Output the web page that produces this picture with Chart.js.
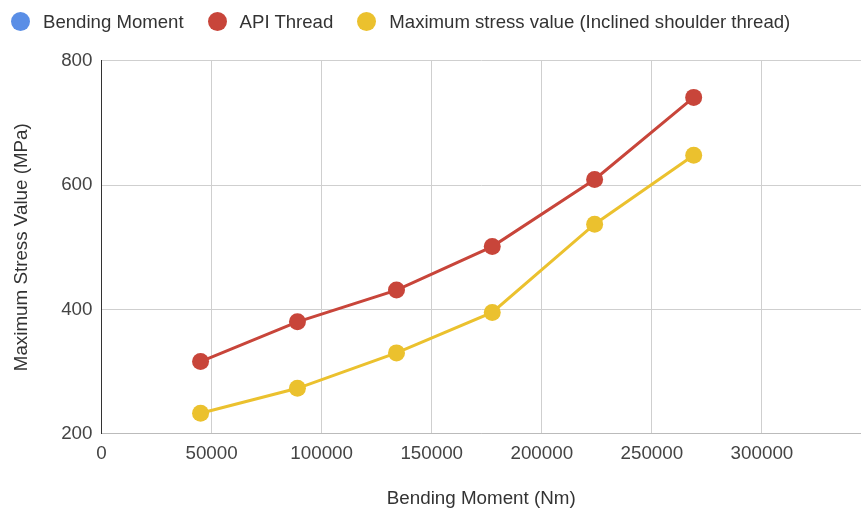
<!DOCTYPE html>
<html>
<head>
<meta charset="utf-8">
<script src="https://cdn.jsdelivr.net/npm/chart.js@4.4.1/dist/chart.umd.min.js"></script>
<style>
  html, body { margin: 0; padding: 0; background: #fff; }
  #wrap { position: relative; width: 861px; height: 512px; }
  #legend {
    position: absolute; left: 11px; top: 11px;
    display: flex; gap: 24px;
    font-family: 'Liberation Sans', Arial, sans-serif; font-size: 18.6px;
    color: #333; line-height: 21px;
  }
  .item { display: flex; align-items: center; }
  .dot { width: 19px; height: 19px; border-radius: 50%; margin-right: 13px; }
</style>
</head>
<body>
<div id="wrap">
  <canvas id="stressChart" width="861" height="512"></canvas>
  <div id="legend"></div>
</div>
<script>
// values
let bendingMoment = [45000, 89000, 134000, 177500, 224000, 269000];
let apiThread = [316, 380, 431, 501, 609, 741];
let inclinedThread = [233, 273, 330, 395, 537, 648];

let seriesNames = ['Bending Moment', 'API Thread', 'Maximum stress value (Inclined shoulder thread)'];
let seriesColors = ['#5a8ee6', '#c8453a', '#ebc12e'];

let xTicks = [0, 50000, 100000, 150000, 200000, 250000, 300000];
let yTicks = [200, 400, 600, 800];

Chart.defaults.font.family = "'Liberation Sans', Arial, sans-serif";

function toPoints(ys) {
  return bendingMoment.map((x, i) => ({x: x, y: ys[i]}));
}

function makeSeries(index, values) {
  return {
    label: seriesNames[index],
    data: values,
    showLine: true,
    borderColor: seriesColors[index],
    backgroundColor: seriesColors[index],
    borderWidth: 3,
    pointRadius: 8.5,
    pointHoverRadius: 8.5,
    pointBorderWidth: 0,
    tension: 0
  };
}

let ctx = document.getElementById('stressChart').getContext('2d');
let chart = new Chart(ctx, {
  type: 'scatter',
  data: {
    datasets: [
      makeSeries(0, []),
      makeSeries(1, toPoints(apiThread)),
      makeSeries(2, toPoints(inclinedThread))
    ]
  },
  options: {
    responsive: false,
    animation: false,
    layout: { autoPadding: false, padding: { top: 60.7, right: 0, bottom: 0, left: 0 } },
    plugins: {
      legend: { display: false },
      tooltip: { enabled: false }
    },
    scales: {
      x: {
        type: 'linear',
        position: 'bottom',
        min: 0,
        max: 345000,
        afterBuildTicks: scale => { scale.ticks = xTicks.map(v => ({value: v})); },
        afterFit: scale => {
          scale.height = 78.3;
          scale.paddingRight = 0;
          scale.paddingLeft = 0;
        },
        border: { color: '#bbb', width: 1 },
        grid: { color: '#cfcfcf', drawTicks: false },
        ticks: { color: '#444', font: { size: 18.8 }, padding: 9, maxRotation: 0, callback: v => String(v) },
        title: { display: true, text: 'Bending Moment (Nm)', color: '#333', font: { size: 18.8 }, padding: { top: 0, bottom: 2 } }
      },
      y: {
        min: 200,
        max: 800,
        afterBuildTicks: scale => { scale.ticks = yTicks.map(v => ({value: v})); },
        afterFit: scale => { scale.width = 101.5; },
        border: { color: '#333', width: 1 },
        grid: { color: '#cfcfcf', drawTicks: false },
        ticks: { color: '#444', font: { size: 18.8 }, padding: 9 },
        title: { display: true, text: 'Maximum Stress Value (MPa)', color: '#333', font: { size: 18.8 }, padding: { top: 11, bottom: 0 } }
      }
    }
  }
});

// legend built from the same series names and colours
let legend = document.getElementById('legend');
seriesNames.forEach((name, i) => {
  let item = document.createElement('div');
  item.className = 'item';
  let dot = document.createElement('span');
  dot.className = 'dot';
  dot.style.background = seriesColors[i];
  let label = document.createElement('span');
  label.textContent = name;
  item.appendChild(dot);
  item.appendChild(label);
  legend.appendChild(item);
});
</script>
</body>
</html>
